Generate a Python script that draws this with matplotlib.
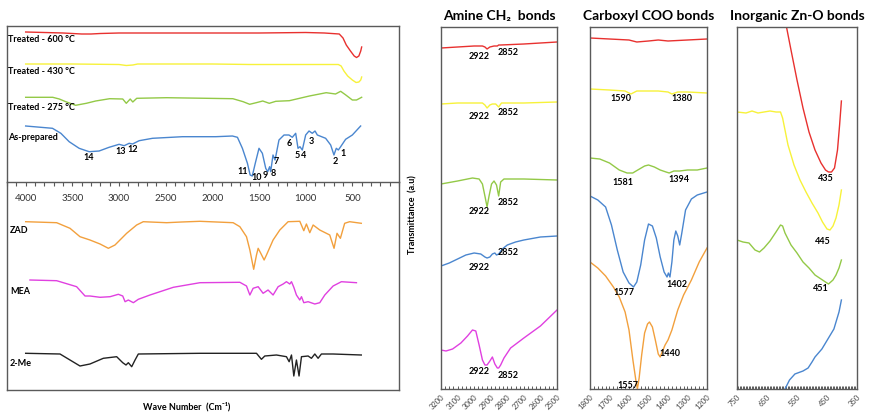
import numpy as np
import matplotlib.pyplot as plt
from matplotlib.ticker import FixedLocator, MultipleLocator

plt.rcParams['font.family'] = ['Lato', 'DejaVu Sans']

# ---- full FTIR spectra (wavenumber cm-1, transmittance a.u.) ----
# heat treated / as-prepared samples (upper block)
wn_600 = [4000, 3800, 3600, 3400, 3300, 3200, 3000, 2800, 2500, 2000, 1500, 1000, 800, 640, 600, 565, 520, 480, 455, 430, 410, 400]
t_600 = [150, 149.5, 149, 148, 148, 148.5, 149, 149, 149, 149, 149, 149.5, 149, 148, 144, 137, 131, 126, 124.5, 126, 131, 135]

wn_430 = [4000, 3500, 3000, 2922, 2852, 2800, 2000, 1600, 1000, 650, 620, 590, 550, 500, 460, 430, 410, 400]
t_430 = [118, 118, 117.5, 116.5, 117, 118, 118, 117.5, 117.5, 117.5, 116, 111, 106, 102, 99.5, 100, 102, 105]

wn_275 = [4000, 3710, 3640, 3570, 3465, 3350, 3250, 3100, 2960, 2922, 2880, 2852, 2810, 2490, 1780, 1670,
          1600, 1530, 1460, 1390, 1320, 1175, 960, 780, 680, 625, 570, 500, 455, 400]
t_275 = [84.7, 84.7, 83, 80.3, 76.7, 78.7, 81, 83.3, 83, 78.7, 83, 80, 83.7, 84.3, 83.3, 80.3,
         77.7, 79.3, 81, 78.7, 80.7, 81.3, 86, 89.3, 88, 90.7, 87, 82, 82, 84.7]

wn_asp = [4000, 3713, 3623, 3534, 3427, 3320, 3213, 3106, 2999, 2945, 2891, 2855, 2784, 2641, 2320, 1963,
          1785, 1731, 1678, 1624, 1595, 1572, 1540, 1500, 1464, 1428, 1407, 1386, 1375, 1350, 1328, 1286,
          1232, 1179, 1143, 1107, 1082, 1061, 1036, 1000, 964, 929, 900, 875, 786, 732, 697, 672, 650, 625,
          572, 500, 411]
t_asp = [56, 53.7, 48.7, 40.3, 33.7, 30.3, 31, 34.7, 37.7, 36.3, 38.7, 38, 41.3, 43.7, 45.3, 45.3,
         46, 44.7, 33.7, 18.7, 7, 6, 18.7, 33.7, 28.7, 13.7, 10.3, 15.3, 10.3, 27, 22, 42,
         47, 47, 44.7, 48.7, 33.7, 35.3, 32, 47, 51, 48.7, 51, 47, 43.7, 37, 27, 33.7, 32, 35.3,
         42.7, 47, 56]

# peak numbers of the as-prepared spectrum
peak_ids = ['14', '13', '12', '11', '10', '9', '8', '7', '6', '5', '4', '3', '2', '1']
peak_wn = [3325, 2983, 2854, 1677, 1527, 1430, 1345, 1313, 1173, 1088, 1024, 938, 681, 595]
peak_t = [25, 30, 33, 10, 4, 6, 8, 20, 39, 27, 26, 41, 20, 28]

# precursors (lower block)
wn_zad = [4000, 3668, 3525, 3418, 3311, 3203, 3114, 3043, 2918, 2811, 2740, 2490, 2330, 2133, 1777, 1705,
          1634, 1598, 1557, 1527, 1509, 1481, 1445, 1420, 1349, 1277, 1188, 1063, 1020, 992, 956, 920,
          849, 742, 696, 664, 628, 582, 529, 404]
t_zad = [168.3, 167.3, 161.7, 153.3, 150, 146, 141.7, 145, 156.7, 165, 168.3, 167.3, 168, 168.7, 167.3, 163.3,
         153.3, 140, 120.7, 135, 141.7, 136.7, 130, 135, 150, 160, 168.3, 168.7, 159.3, 166, 157.3, 165,
         160, 155, 141.7, 156.7, 151.7, 166.7, 168.3, 166.7]

wn_mea = [3954, 3668, 3454, 3364, 3311, 3203, 3096, 3007, 2960, 2935, 2900, 2846, 2793, 2668, 2418, 2133,
          1705, 1634, 1598, 1563, 1509, 1456, 1403, 1349, 1295, 1241, 1206, 1170, 1152, 1127, 1099, 1063,
          1045, 1020, 974, 902, 849, 795, 706, 617, 456]
t_mea = [110, 109.3, 103.3, 94, 94, 92.7, 93.3, 95.7, 94, 88.3, 90, 87.3, 90.7, 95, 102.7, 107.3,
         107.7, 104, 95, 101.7, 103.3, 96.7, 100, 95, 103.3, 106, 108.3, 106, 108.3, 102.7, 95, 90,
         93.3, 87.3, 88.3, 86, 87.3, 95, 104, 108.3, 107.3]

wn_2me = [4000, 3632, 3525, 3418, 3311, 3168, 3025, 2960, 2925, 2900, 2864, 2828, 2793, 2133, 1527, 1474,
          1438, 1313, 1206, 1177, 1152, 1127, 1099, 1071, 1045, 974, 938, 902, 867, 831, 706, 404]
t_2me = [36.7, 36, 30, 24, 26, 31.7, 33.3, 27.3, 25, 27.3, 23.3, 30, 36, 36.7, 36.7, 30.7,
         34, 35, 33.3, 28.3, 35, 14, 30, 14, 33.3, 34, 31.7, 36, 31.7, 36, 36, 35]

# ---- enlarged regions ----
# amine CH2 region
ch_wn_600 = [3200, 3100, 3000, 2950, 2935, 2922, 2905, 2880, 2860, 2852, 2840, 2700, 2500]
ch_t_600 = [341, 342, 343, 343, 342, 340, 342, 343, 343, 344, 344, 345, 347]
ch_wn_430 = [3200, 3100, 3000, 2950, 2935, 2922, 2905, 2890, 2870, 2852, 2835, 2700, 2500]
ch_t_430 = [285, 286, 286, 286, 284, 281, 284, 285, 285, 282, 286, 286, 287]
ch_wn_275 = [3200, 3100, 3010, 2970, 2950, 2935, 2922, 2910, 2895, 2880, 2865, 2852, 2840, 2820, 2700, 2500]
ch_t_275 = [205, 208, 211, 210, 205, 193, 182, 193, 205, 208, 204, 193, 207, 210, 210, 209]
ch_wn_asp = [3200, 3150, 3100, 3050, 3000, 2960, 2935, 2922, 2905, 2890, 2875, 2865, 2852, 2830, 2800, 2750, 2700, 2600, 2500]
ch_t_asp = [123, 126, 130, 134, 136, 135, 132, 131, 132, 135, 136, 134, 135, 140, 144, 147, 149, 152, 153]
ch_wn_mea = [3200, 3170, 3130, 3080, 3040, 3010, 2990, 2970, 2950, 2935, 2922, 2905, 2890, 2875, 2860, 2852,
             2840, 2820, 2780, 2700, 2600, 2500]
ch_t_mea = [39, 38, 40, 46, 53, 59, 58, 44, 29, 24, 24, 28, 32, 25, 21, 21, 24, 31, 41, 51, 63, 79]
ch_peaks = [2922, 2852]
ch_label_t = [(332, 336), (272, 276), (177, 186), (121, 136), (17, 14)]

# carboxyl COO region
coo_wn_600 = [1800, 1700, 1600, 1560, 1500, 1450, 1400, 1300, 1200]
coo_t_600 = [351, 350, 349, 347, 348, 349, 348, 349, 350]
coo_wn_430 = [1800, 1700, 1620, 1590, 1560, 1500, 1450, 1400, 1380, 1350, 1300, 1200]
coo_t_430 = [300, 299, 298, 295, 298, 298, 298, 297, 295, 297, 297, 296]
coo_wn_275 = [1800, 1750, 1700, 1650, 1610, 1581, 1555, 1520, 1500, 1470, 1440, 1410, 1394, 1370, 1340, 1300, 1250, 1200]
coo_t_275 = [231, 230, 226, 219, 216, 216, 219, 223, 224, 222, 219, 217, 216, 218, 218, 219, 219, 221]
coo_wn_asp = [1800, 1760, 1720, 1690, 1660, 1630, 1600, 1577, 1560, 1540, 1520, 1500, 1480, 1460, 1440,
              1420, 1405, 1398, 1390, 1380, 1370, 1360, 1350, 1340, 1330, 1310, 1280, 1250, 1200]
coo_t_asp = [193, 189, 182, 164, 139, 117, 106, 102, 107, 124, 149, 165, 163, 151, 132,
             117, 112, 116, 112, 127, 149, 158, 153, 144, 155, 179, 190, 194, 197]
coo_wn_zad = [1800, 1760, 1720, 1680, 1650, 1620, 1600, 1580, 1565, 1557, 1548, 1535, 1520, 1505, 1495,
              1480, 1465, 1450, 1440, 1430, 1415, 1400, 1380, 1350, 1320, 1280, 1240, 1200]
coo_t_zad = [127, 121, 113, 102, 92, 77, 59, 29, 9, 0, 11, 34, 56, 65, 67,
             62, 49, 35, 32, 37, 44, 49, 59, 79, 94, 109, 127, 141]
coo_peaks = [(1590, 1380), (1581, 1394), (1577, 1402), (1557, 1440)]
coo_label_t = [(290, 290), (206, 209), (96, 104), (4, 35)]

# inorganic Zn-O region
zno_wn_600 = [585, 570, 550, 530, 510, 490, 470, 455, 445, 435, 425, 415, 408, 402]
zno_t_600 = [362, 339, 309, 281, 257, 239, 226, 219, 217, 217, 221, 239, 264, 288]
zno_wn_430 = [750, 720, 700, 680, 660, 640, 620, 605, 598, 590, 580, 560, 540, 520, 500, 480, 465, 450, 440,
              430, 420, 410, 402]
zno_t_430 = [277, 276, 278, 276, 277, 278, 277, 277, 271, 259, 244, 224, 209, 197, 186, 176, 167, 160, 159,
             163, 171, 184, 199]
zno_wn_275 = [750, 730, 710, 690, 675, 660, 640, 620, 605, 598, 590, 570, 550, 530, 510, 490, 470, 455, 445,
              430, 420, 410, 402]
zno_t_275 = [149, 147, 146, 139, 137, 141, 148, 157, 164, 163, 156, 144, 136, 127, 121, 114, 110, 107, 105,
             109, 114, 121, 129]
zno_wn_asp = [590, 575, 557, 530, 513, 500, 490, 467, 447, 427, 410, 402]
zno_t_asp = [0, 9, 15, 18, 21, 27, 32, 40, 50, 60, 77, 89]
zno_peaks = [435, 445, 451]
zno_label_t = [210, 147, 100]

# colours
c_600, c_430, c_275, c_asp = '#e8312f', '#f7f23a', '#93c947', '#4a86cf'
c_zad, c_mea, c_2me = '#f2a03d', '#e040e0', '#222222'
frame = '#5a5a5a'

W, H = 870, 413
fig = plt.figure(figsize=(W / 100, H / 100), dpi=100)


def box(x0, y0, x1, y1):
    return [x0 / W, 1 - y1 / H, (x1 - x0) / W, (y1 - y0) / H]


def frame_style(ax):
    for s in ax.spines.values():
        s.set_color(frame)
        s.set_linewidth(1.0)
    ax.set_facecolor('none')


# ---- left: full spectra ----
ax_top = fig.add_axes(box(7, 26, 399, 182))
ax_bot = fig.add_axes(box(7, 182, 399, 390))
for ax in (ax_top, ax_bot):
    frame_style(ax)
    ax.set_xlim(4200, 0)
    ax.set_yticks([])
ax_top.set_ylim(0, 156)
ax_bot.set_ylim(0, 208)

ax_top.xaxis.set_major_locator(FixedLocator(np.arange(500, 4001, 500)))
ax_top.xaxis.set_minor_locator(MultipleLocator(100))
ax_top.tick_params(axis='x', which='both', direction='out', length=3, width=0.8, color=frame,
                   labelsize=7, labelcolor='#333333', pad=6)
ax_bot.set_xticks([])
ax_bot.spines['top'].set_visible(False)

lw = 1.0
ax_top.plot(wn_600, t_600, color=c_600, lw=lw)
ax_top.plot(wn_430, t_430, color=c_430, lw=lw)
ax_top.plot(wn_275, t_275, color=c_275, lw=lw)
ax_top.plot(wn_asp, t_asp, color=c_asp, lw=lw)
for lab, w, t in zip(peak_ids, peak_wn, peak_t):
    ax_top.text(w, t, lab, fontsize=6.5, fontweight='bold', ha='center', va='center')

ax_bot.plot(wn_zad, t_zad, color=c_zad, lw=lw)
ax_bot.plot(wn_mea, t_mea, color=c_mea, lw=lw)
ax_bot.plot(wn_2me, t_2me, color=c_2me, lw=lw)

name_kw = dict(fontsize=6.5, fontweight='bold', ha='left', va='center', transform=fig.transFigure)
for name, y in [('Treated - 600 °C', 40), ('Treated - 430 °C', 72),
                ('Treated - 275 °C', 107), ('As-prepared', 138)]:
    fig.text(8 / W, 1 - y / H, name, **name_kw)
for name, y in [('ZAD', 230), ('MEA', 291), ('2-Me', 364)]:
    fig.text(10 / W, 1 - y / H, name, **name_kw)

fig.text(187 / W, 1 - 407 / H, 'Wave Number  (Cm\u207b\u00b9)', fontsize=6.5, fontweight='bold',
         ha='center', va='center')
fig.text(413 / W, 1 - 215 / H, 'Transmittance  (a.u)', fontsize=6.5, fontweight='bold',
         ha='center', va='center', rotation=90)


# ---- right: enlarged regions ----
def region(x0, x1, xlim, ticks, minor, title):
    ax = fig.add_axes(box(x0, 27, x1, 389))
    frame_style(ax)
    ax.set_xlim(*xlim)
    ax.set_ylim(0, 362)
    ax.set_yticks([])
    ax.set_xticks(ticks)
    ax.set_xticklabels([str(v) for v in ticks], rotation=45, ha='right', rotation_mode='anchor')
    ax.xaxis.set_minor_locator(MultipleLocator(minor))
    ax.tick_params(axis='x', which='both', direction='in', length=2.5, width=0.7, color=frame,
                   labelsize=5.5, labelcolor='#444444', pad=3)
    ax.text(0.5, 1 + 11 / 362, title, transform=ax.transAxes, fontsize=10, fontweight='bold',
            ha='center', va='center')
    return ax


lab_kw = dict(fontsize=6.5, fontweight='bold', ha='center', va='center', textcoords='offset points')

ax_ch = region(441, 557, (3200, 2500), list(range(2500, 3201, 100)), 25, 'Amine CH\u2082  bonds')
for w, t, c in [(ch_wn_600, ch_t_600, c_600), (ch_wn_430, ch_t_430, c_430), (ch_wn_275, ch_t_275, c_275),
                (ch_wn_asp, ch_t_asp, c_asp), (ch_wn_mea, ch_t_mea, c_mea)]:
    ax_ch.plot(w, t, color=c, lw=lw)
for t1, t2 in ch_label_t:
    ax_ch.annotate(str(ch_peaks[0]), (ch_peaks[0], t1), xytext=(-6, 0), **lab_kw)
    ax_ch.annotate(str(ch_peaks[1]), (ch_peaks[1], t2), xytext=(7, 0), **lab_kw)

ax_coo = region(590, 707, (1800, 1200), list(range(1200, 1801, 100)), 20, 'Carboxyl COO bonds')
for w, t, c in [(coo_wn_600, coo_t_600, c_600), (coo_wn_430, coo_t_430, c_430), (coo_wn_275, coo_t_275, c_275),
                (coo_wn_asp, coo_t_asp, c_asp), (coo_wn_zad, coo_t_zad, c_zad)]:
    ax_coo.plot(w, t, color=c, lw=lw)
for (p1, p2), (t1, t2) in zip(coo_peaks, coo_label_t):
    ax_coo.annotate(str(p1), (p1, t1), xytext=(-7, 0), **lab_kw)
    ax_coo.annotate(str(p2), (p2, t2), xytext=(7, 0), **lab_kw)

ax_zno = region(737, 857, (750, 350), list(range(350, 751, 100)), 5, 'Inorganic Zn-O bonds')
for w, t, c in [(zno_wn_600, zno_t_600, c_600), (zno_wn_430, zno_t_430, c_430),
                (zno_wn_275, zno_t_275, c_275), (zno_wn_asp, zno_t_asp, c_asp)]:
    ax_zno.plot(w, t, color=c, lw=lw)
for p, t in zip(zno_peaks, zno_label_t):
    ax_zno.annotate(str(p), (p, t), xytext=(-4, 0), **lab_kw)

fig.savefig('out.png', dpi=100)
